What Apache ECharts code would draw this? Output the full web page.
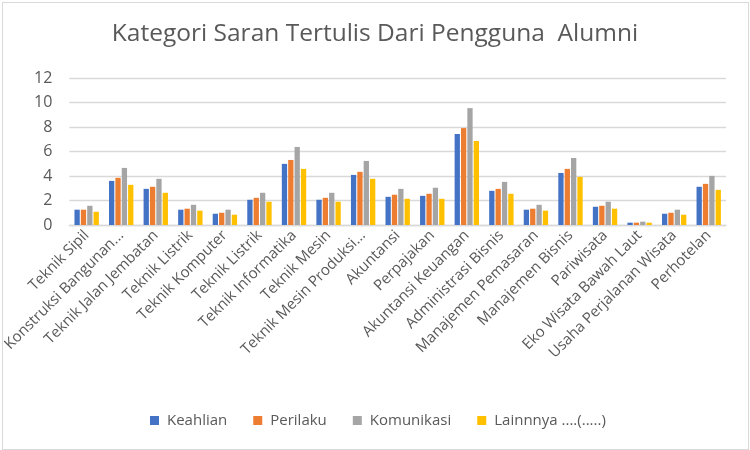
<!DOCTYPE html>
<html>
<head>
<meta charset="utf-8">
<title>Kategori Saran Tertulis Dari Pengguna Alumni</title>
<script src="https://cdn.jsdelivr.net/npm/echarts@6.0.0/dist/echarts.min.js"></script>
<style>
	html, body { margin: 0; padding: 0; background: #fff; }
	#chart { position: absolute; left: 0; top: 0; width: 750px; height: 450px; }
	#frame { position: absolute; left: 2px; top: 2px; width: 747px; height: 448px; box-sizing: border-box; border: 1px solid #d9d9d9; pointer-events: none; }
</style>
</head>
<body>
<div id="chart"></div>
<div id="frame"></div>
<script>
var categories = [
	"Teknik Sipil", "Konstruksi Bangunan...", "Teknik Jalan Jembatan", "Teknik Listrik",
	"Teknik Komputer", "Teknik Listrik", "Teknik Informatika", "Teknik Mesin",
	"Teknik Mesin Produksi...", "Akuntansi", "Perpajakan", "Akuntansi Keuangan",
	"Administrasi Bisnis", "Manajemen Pemasaran", "Manajemen Bisnis", "Pariwisata",
	"Eko Wisata Bawah Laut", "Usaha Perjalanan Wisata", "Perhotelan"
];
var seriesNames = ["Keahlian", "Perilaku", "Komunikasi", "Lainnnya ....(.....)"];
var keahlian = [1.25, 3.6, 2.95, 1.25, 0.92, 2.06, 4.99, 2.06, 4.09, 2.3, 2.38, 7.43, 2.79, 1.25, 4.25, 1.49, 0.19, 0.92, 3.12];
var perilaku = [1.25, 3.85, 3.12, 1.33, 1.0, 2.22, 5.31, 2.22, 4.34, 2.47, 2.55, 7.91, 2.95, 1.33, 4.58, 1.57, 0.19, 1.0, 3.36];
var komunikasi = [1.57, 4.66, 3.77, 1.65, 1.25, 2.63, 6.37, 2.63, 5.23, 2.95, 3.04, 9.54, 3.52, 1.65, 5.47, 1.9, 0.27, 1.25, 4.01];
var lainnya = [1.08, 3.28, 2.63, 1.17, 0.84, 1.9, 4.58, 1.9, 3.77, 2.14, 2.14, 6.86, 2.55, 1.17, 3.93, 1.33, 0.19, 0.84, 2.87];
var colors = ["#4472C4", "#ED7D31", "#A5A5A5", "#FFC000"];

var chart = echarts.init(document.getElementById("chart"));
var font = "'Open Sans', sans-serif";

function barSeries(name, data) {
	return {
		name: name,
		type: "bar",
		data: data,
		barWidth: 5.3,
		barGap: "20%",
		animation: false
	};
}

var option = {
	color: colors,
	textStyle: { fontFamily: font },
	title: {
		text: "Kategori Saran Tertulis Dari Pengguna  Alumni",
		left: "center",
		top: 17,
		textStyle: { fontFamily: font, fontSize: 24.5, fontWeight: "normal", color: "#595959" }
	},
	legend: {
		data: seriesNames,
		left: 145,
		top: 408,
		itemWidth: 9,
		itemHeight: 9,
		itemGap: 26,
		icon: "rect",
		textStyle: { fontFamily: font, fontSize: 15, color: "#595959", padding: [0, 0, 0, 3] }
	},
	grid: { left: 65, right: 24, top: 78, bottom: 225, containLabel: false },
	xAxis: {
		type: "category",
		data: categories,
		axisLine: { lineStyle: { color: "#d9d9d9", width: 1.3 } },
		axisTick: { show: false },
		axisLabel: { interval: 0, rotate: 45, fontFamily: font, fontSize: 15, color: "#595959", margin: 8 }
	},
	yAxis: {
		type: "value",
		min: 0,
		max: 12,
		interval: 2,
		axisLine: { show: false },
		axisTick: { show: false },
		axisLabel: { fontFamily: font, fontSize: 16, color: "#595959", margin: 17 },
		splitLine: { lineStyle: { color: "#d9d9d9", width: 1.3 } }
	},
	series: [
		barSeries(seriesNames[0], keahlian),
		barSeries(seriesNames[1], perilaku),
		barSeries(seriesNames[2], komunikasi),
		barSeries(seriesNames[3], lainnya)
	]
};

chart.setOption(option);
</script>
</body>
</html>
